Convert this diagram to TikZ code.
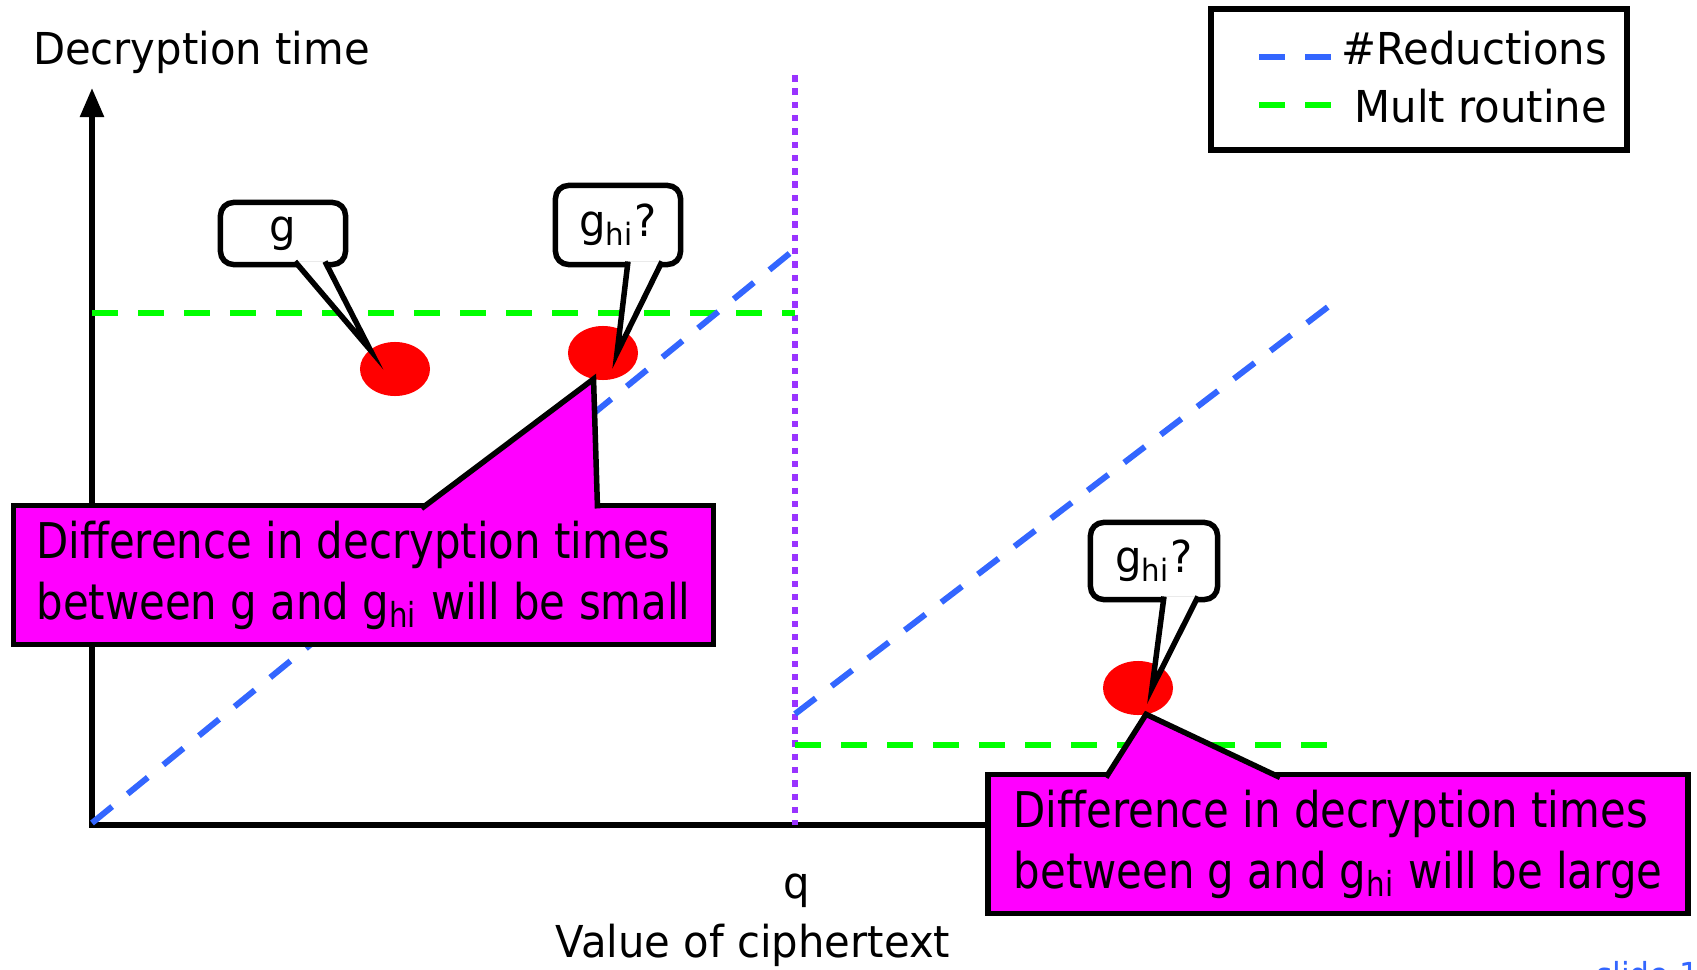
\documentclass[tikz,border=0pt]{standalone}
\usepackage{fontspec}
\setmainfont{DejaVu Sans}[FakeStretch=0.95]
\newfontfamily\notefont{DejaVu Sans}[FakeStretch=0.85]
\usetikzlibrary{arrows.meta,shapes.geometric,calc}
\definecolor{redu}{HTML}{3366FF}
\definecolor{mult}{HTML}{00FF00}
\definecolor{qline}{HTML}{9933FF}
\definecolor{note}{HTML}{FF00FF}

\tikzset{
	every node/.style={font=\fontsize{12.5}{17.3}\selectfont,inner sep=0pt,outer sep=0pt},
	axis/.style={line width=0.055cm,{Triangle[width=0.23cm,length=0.29cm]}-},
	curve/.style={line width=0.06cm,dash pattern=on 0.26cm off 0.2cm},
	spot/.style={ellipse,fill=red,minimum width=0.7cm,minimum height=0.54cm},
	bubble/.style={draw,line width=0.055cm,fill=white,rounded corners=0.13cm,minimum width=1.25cm},
	tail/.style={line width=0.055cm,fill=white,line join=miter},
	notebox/.style={draw,line width=0.055cm,fill=note,minimum width=7cm,minimum height=1.39cm,align=left,
		font=\notefont\fontsize{14}{17.3}\selectfont}
}

\begin{document}
\begin{tikzpicture}[x=0.01cm,y=-0.01cm]
	\useasboundingbox (0,0) rectangle (1697,970);
	% axes and curves
	\draw[axis] (92,88) -- (92,825) -- (1000,825);
	\draw[qline,line width=0.065cm,dash pattern=on 0.065cm off 0.068cm] (795,75) -- (795,825);
	\draw[curve,mult] (92,313) -- (795,313) (795,745) -- (1337,745);
	\draw[curve,redu] (92,823) -- (795,249) (795,714) -- (1337,300);
	\node[anchor=base west] (ylab) at (33,65) {Decryption time};
	\node[anchor=base] (q) at (797,898) {q};
	\node[anchor=base] (xlab) at (753,957) {Value of ciphertext};
	% legend
	\node[draw,line width=0.055cm,minimum width=4.16cm,minimum height=1.41cm] (legend) at (1419,79.5) {};
	\draw[curve,redu] (1259,57) -- (1332,57);
	\draw[curve,mult] (1259,105) -- (1332,105);
	\node[anchor=base east] (lredu) at (1607,65) {\#Reductions};
	\node[anchor=base east] (lmult) at (1607,123) {Mult routine};
	% ciphertexts
	\foreach \n/\x/\y in {g/395/369,hiA/603/353,hiB/1138/688}
	\node[spot] (\n) at (\x,\y) {};
	\node[bubble,minimum height=0.62cm] (gbox) at (283,233.5) {g};
	\node[bubble,minimum height=0.79cm] (hiAbox) at (618,225) {g\textsubscript{hi}?};
	\node[bubble,minimum height=0.77cm,minimum width=1.27cm] (hiBbox) at (1154,561) {g\textsubscript{hi}?};
	\filldraw[tail] ($(gbox.south)+(12,-3)$) -- (g.north west) -- ($(gbox.south)+(42,-3)$);
	\foreach \n in {hiA,hiB}
	\filldraw[tail] ($(\n box.south)+(10,-3)$) -- ($(\n)+(14,0)$) -- ($(\n box.south)+(44,-3)$);
	% notes
	\node[notebox] (small) at (363.5,575) {Difference in decryption times\\between g and g\textsubscript{hi} will be small};
	\filldraw[tail,fill=note] ($(small.north)+(58,3)$) -- (hiA.-110) -- ($(small.north)+(234,3)$);
	\node[notebox] (large) at (1338,844) {Difference in decryption times\\between g and g\textsubscript{hi} will be large};
	\filldraw[tail,fill=note] ($(large.north)+(-232,3)$) -- (hiB.-73) -- ($(large.north)+(-58,3)$);
	\node[anchor=base west,text=redu,font=\fontsize{9.4}{11}\selectfont] (slide) at (1596,986) {slide 10};
\end{tikzpicture}
\end{document}
